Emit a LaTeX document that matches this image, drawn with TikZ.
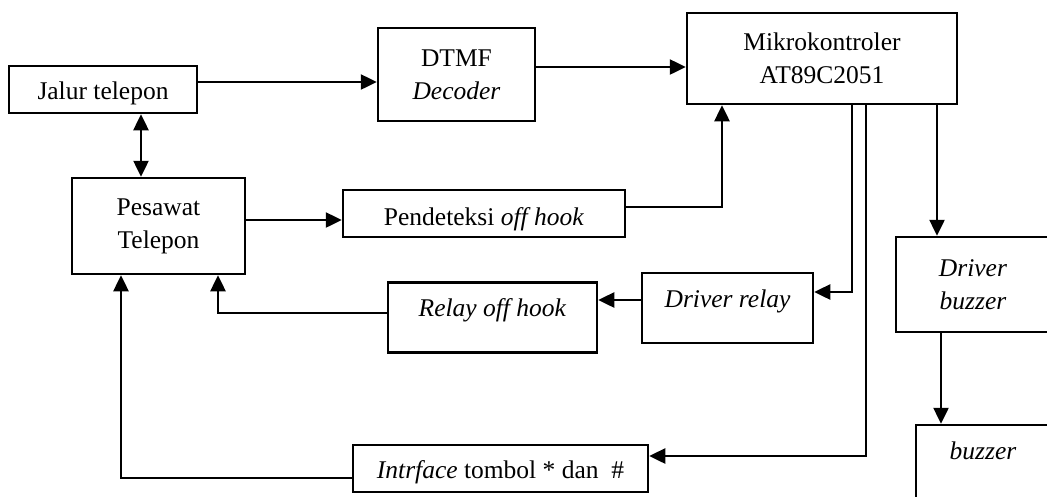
\documentclass[tikz,border=0pt]{standalone}
\usepackage{fontspec}
\setmainfont{Liberation Serif}
\usetikzlibrary{arrows.meta}
\begin{document}
\begin{tikzpicture}[x=1pt,y=-1pt,
  box/.style={draw, line width=2.5pt, align=center, inner sep=0pt,
    font=\fontsize{25.5pt}{33pt}\selectfont},
  tb/.style 2 args={text height=#1pt, text depth=#2pt},
  tip/.tip={Triangle[length=16pt,width=15pt]},
  arr/.style={line width=2.5pt, -tip},
  arrboth/.style={line width=2.5pt, tip-tip}]
\fill[white] (0,0) rectangle (1047,496);
\useasboundingbox (0,0) rectangle (1047,496);

\node[box, minimum width=188pt, minimum height=47pt, tb={30}{10}] (jt) at (103,89.5) {Jalur telepon};
\node[box, minimum width=157pt, minimum height=93pt] (dtmf) at (456.5,74.5) {DTMF\\\textit{Decoder}};
\node[box, minimum width=270pt, minimum height=91pt] (mk) at (822,58.5) {Mikrokontroler\\AT89C2051};
\node[box, minimum width=173pt, minimum height=96pt] (ps) at (158.5,226) {Pesawat\\Telepon};
\node[box, minimum width=282pt, minimum height=47pt, tb={32}{8}] (pd) at (484,213.5) {Pendeteksi \textit{off hook}};
\node[box, minimum width=209pt, minimum height=70pt, tb={18.5}{21.5}] (ro) at (492.5,317.5) {\textit{Relay off hook}};
\node[box, minimum width=171pt, minimum height=70pt, tb={19}{21}] (dr) at (727.5,308) {\textit{Driver relay}};
\node[box, minimum width=154pt, minimum height=95pt] (db) at (973,284.5) {\textit{Driver}\\\textit{buzzer}};
\node[box, minimum width=134pt, minimum height=75pt, tb={16.5}{23.5}] (bz) at (983,462.5) {\textit{buzzer}};
\node[box, minimum width=295pt, minimum height=47pt, tb={29.5}{10.5}] (it) at (500.5,468.5) {\textit{Intrface} tombol * dan~~\#};

\draw[arr] (jt.east |- 0,82) -- (dtmf.west |- 0,82);
\draw[arr] (dtmf.east |- 0,67) -- (mk.west |- 0,67);
\draw[arrboth] (jt.south -| 141,0) -- (ps.north -| 141,0);
\draw[arr] (ps.east |- 0,220) -- (pd.west |- 0,220);
\draw[arr] (pd.east |- 0,207) -| (mk.south -| 722,0);
\draw[arr] (mk.south -| 852,0) |- (dr.east |- 0,292);
\draw[arr] (mk.south -| 866,0) |- (it.east |- 0,456);
\draw[arr] (mk.south -| 937,0) -- (db.north -| 937,0);
\draw[arr] (db.south -| 941,0) -- (bz.north -| 941,0);
\draw[arr] (dr.west |- 0,300) -- (ro.east |- 0,300);
\draw[arr] (ro.west |- 0,313) -| (ps.south -| 218,0);
\draw[arr] (it.west |- 0,478) -| (ps.south -| 121,0);
\end{tikzpicture}
\end{document}
